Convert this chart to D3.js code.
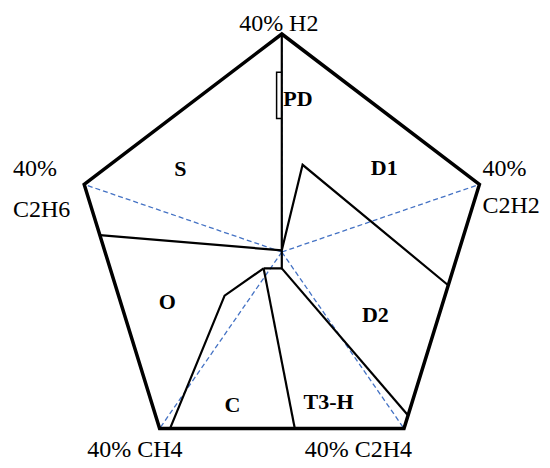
<!DOCTYPE html>
<html>
<head>
<meta charset="utf-8">
<script src="https://cdn.jsdelivr.net/npm/d3@7"></script>
<style>
  body { margin: 0; background: #fff; }
</style>
</head>
<body>
<div class="chart"></div>
<script>
// pentagon corners, 40% of each gas (Duval coordinates)
const gases = ["H2", "C2H2", "C2H4", "CH4", "C2H6"];
const corners = [[0, 40], [38, 12.4], [23.5, -32.4], [-23.5, -32.4], [-38, 12.4]];

// zone boundaries
const boundaries = [
    [[0, 40], [0, 0.3]],
    [[-35, 3.1], [0, 0.3]],
    [[0, 0.3], [4, 16], [32, -6.1]],
    [[0, 0.3], [0, -3], [-3.5, -3]],
    [[0, -3], [24.3, -30]],
    [[-3.5, -3], [2.5, -32.4]],
    [[-3.5, -3], [-11, -8], [-21.5, -32.4]]
];
const pdBox = [[0, 33], [-1, 33], [-1, 24.5], [0, 24.5]];

// zone labels
const zones = ["S", "PD", "D1", "O", "D2", "C", "T3-H"];
const zonePos = [[-19.5, 14], [0.3, 26.7], [19.7, 14.2], [-22, -10.4], [18, -12.8], [-9.5, -29.3], [9, -28.8]];

const width = 550, height = 468;

const svg = d3.select(".chart")
    .append("svg")
    .attr("width", width)
    .attr("height", height);

const xScale = d3.scaleLinear()
    .domain([-40, 40])
    .range([281.8 - 208, 281.8 + 208]);

const yScale = d3.scaleLinear()
    .domain([-40, 40])
    .range([470, 34]);

const line = d3.line()
    .x(d => xScale(d[0]))
    .y(d => yScale(d[1]));

// dashed axes from centre to each corner
svg.selectAll(".axis-line")
    .data(corners)
    .join("line")
    .attr("class", "axis-line")
    .attr("x1", xScale(0))
    .attr("y1", yScale(0))
    .attr("x2", d => xScale(d[0]))
    .attr("y2", d => yScale(d[1]))
    .attr("stroke", "#4472C4")
    .attr("stroke-width", 1.3)
    .attr("stroke-dasharray", "5,3");

svg.selectAll(".zone-line")
    .data(boundaries)
    .join("path")
    .attr("class", "zone-line")
    .attr("d", line)
    .attr("fill", "none")
    .attr("stroke", "#000")
    .attr("stroke-width", 2.2);

svg.append("path")
    .attr("d", line(pdBox))
    .attr("fill", "none")
    .attr("stroke", "#000")
    .attr("stroke-width", 1.5);

svg.append("path")
    .attr("d", line(corners) + "Z")
    .attr("fill", "none")
    .attr("stroke", "#000")
    .attr("stroke-width", 3.5)
    .attr("stroke-linejoin", "miter");

svg.selectAll(".zone-label")
    .data(zones)
    .join("text")
    .attr("class", "zone-label")
    .attr("x", (d, i) => xScale(zonePos[i][0]))
    .attr("y", (d, i) => yScale(zonePos[i][1]))
    .attr("text-anchor", d => d == "PD" ? "start" : "middle")
    .attr("font-family", "'Liberation Serif', 'Times New Roman', serif")
    .attr("font-weight", "bold")
    .attr("font-size", 22)
    .text(d => d);

// corner labels
const font = "'Liberation Serif', 'Times New Roman', serif";
const lab = svg.append("g")
    .attr("font-family", font)
    .attr("font-size", 24)
    .attr("fill", "#000");

lab.append("text")
    .attr("x", xScale(corners[0][0]) - 3)
    .attr("y", yScale(corners[0][1]) - 3)
    .attr("text-anchor", "middle")
    .text("40% " + gases[0]);

lab.append("text")
    .attr("x", xScale(corners[1][0]) + 3)
    .attr("y", 176)
    .text("40%");
lab.append("text")
    .attr("x", xScale(corners[1][0]) + 3)
    .attr("y", 213)
    .text(gases[1]);

lab.append("text")
    .attr("x", xScale(corners[2][0]) + 8)
    .attr("y", 457)
    .attr("text-anchor", "end")
    .text("40% " + gases[2]);

lab.append("text")
    .attr("x", xScale(corners[3][0]) + 23)
    .attr("y", 457)
    .attr("text-anchor", "end")
    .text("40% " + gases[3]);

lab.append("text")
    .attr("x", 13)
    .attr("y", 176)
    .text("40%");
lab.append("text")
    .attr("x", 13)
    .attr("y", 217)
    .text(gases[4]);
</script>
</body>
</html>
